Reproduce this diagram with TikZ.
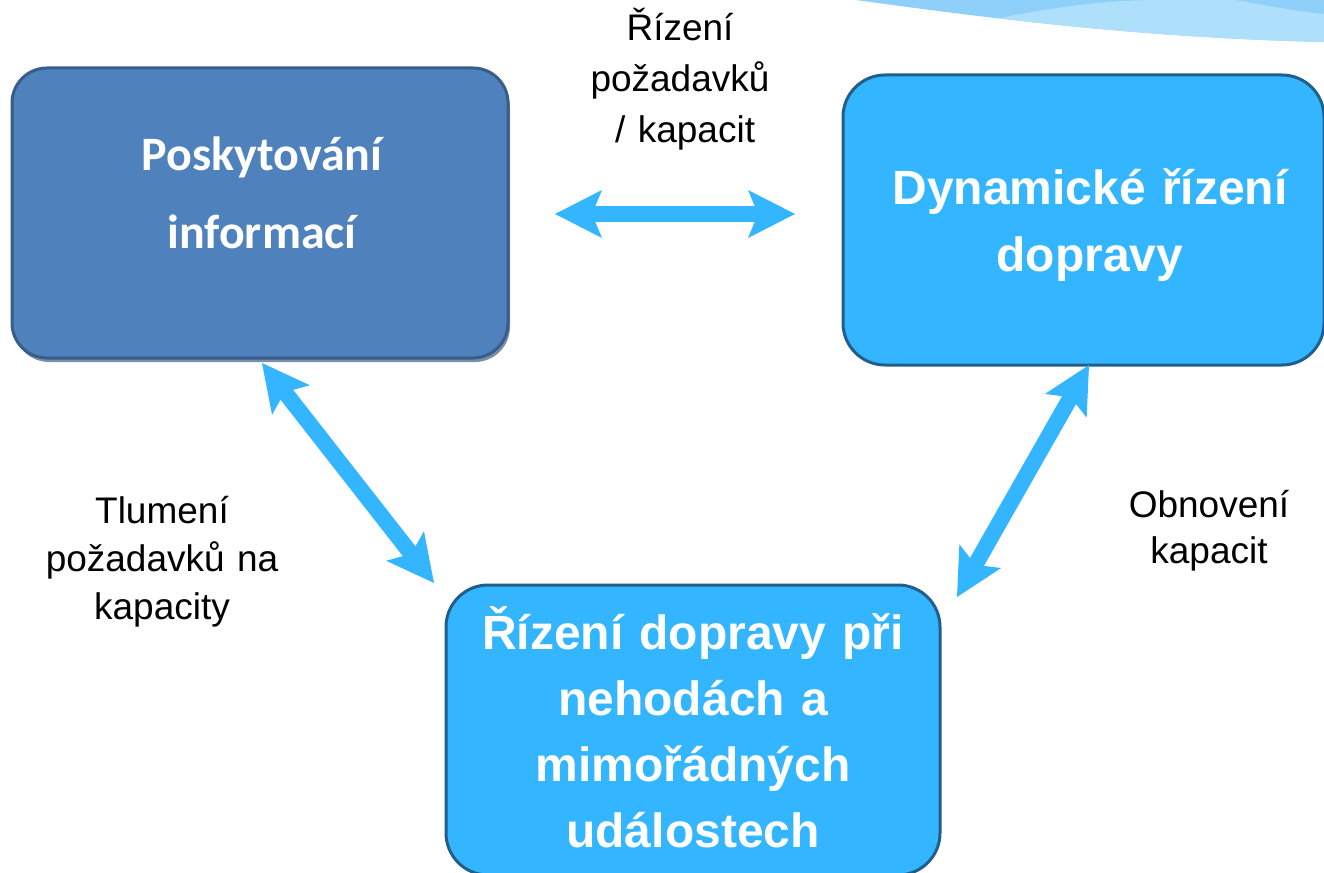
\documentclass[tikz,border=0pt]{standalone}
\usepackage{fontspec}
\setmainfont{Liberation Sans}
\newfontfamily\boxfont{Carlito}
\usetikzlibrary{arrows.meta,shadows}
\definecolor{skyfill}{RGB}{51,181,255}
\definecolor{skyborder}{RGB}{32,94,140}
\definecolor{steelfill}{RGB}{79,129,189}
\definecolor{steelborder}{RGB}{56,93,138}
\definecolor{steelshadow}{RGB}{124,143,168}
\definecolor{waveA}{RGB}{142,208,250}
\definecolor{waveB}{RGB}{174,224,252}
\begin{document}
\begin{tikzpicture}[x=1pt,y=-1pt,
  panel/.style={rectangle, rounded corners=42pt, line width=3pt, inner sep=0pt},
  sky/.style={panel, fill=skyfill, draw=skyborder},
  steel/.style={panel, rounded corners=35pt, fill=steelfill, draw=steelborder,
    drop shadow={shadow xshift=2pt, shadow yshift=-4pt, fill=steelshadow, opacity=1}},
  boxtext/.style={text=white, align=center, text width=470pt, inner sep=0pt, anchor=base},
  note/.style={align=center, text width=300pt, inner sep=0pt, anchor=base},
  link/.style={draw=skyfill, line width=16pt, {Stealth[length=47pt,width=48pt,inset=10pt,line width=0pt]}-{Stealth[length=47pt,width=48pt,inset=10pt,line width=0pt]}}
]
\useasboundingbox (0,0) rectangle (1324,872);

% decorative wave in the top right corner
\fill[waveA] (856,0) .. controls (1000,20) and (1150,38) .. (1324,42) -- (1324,0) -- cycle;
\begin{scope}
  \clip (856,0) .. controls (1000,20) and (1150,38) .. (1324,42) -- (1324,0) -- cycle;
  \fill[waveB] (1000,60) -- (1000,18) .. controls (1060,6) and (1110,0) .. (1160,0)
    -- (1235,0) .. controls (1270,6) and (1300,12) .. (1324,14) -- (1324,60) -- cycle;
\end{scope}

% the three panels
\node[steel, minimum width=496pt, minimum height=290pt] (info) at (260,213) {};
\node[sky, minimum width=481pt, minimum height=290pt] (dyn) at (1083.5,220) {};
\node[sky, minimum width=494pt, minimum height=290pt] (incid) at (693,730) {};

\node[boxtext, font=\boxfont\bfseries\fontsize{48}{78}\selectfont] (infotext) at (262,170)
  {Poskytování\\informací};
\node[boxtext, font=\bfseries\fontsize{48}{67}\selectfont] (dyntext) at (1090,204)
  {Dynamické řízení\\dopravy};
\node[boxtext, font=\bfseries\fontsize{48}{66}\selectfont] (incidtext) at (693,649)
  {Řízení dopravy při\\nehodách a\\mimořádných\\událostech};

% arrow end points
\coordinate (hL) at (555,214);
\coordinate (hR) at (795,214);
\coordinate (lTop) at (262,363);
\coordinate (lBot) at (434,583);
\coordinate (rTop) at (1089,365);
\coordinate (rBot) at (957,597);

\draw[link] (hL) -- (hR);
\draw[link] (lTop) -- (lBot);
\draw[link] (rTop) -- (rBot);

% arrow labels
\node[note, font=\fontsize{37}{51}\selectfont] (topnote) at (680,41)
  {Řízení\\požadavků\\\hspace*{0.278em}/ kapacit};
\node[note, font=\fontsize{37}{48}\selectfont] (leftnote) at (162,523)
  {Tlumení\\požadavků na\\kapacity};
\node[note, font=\fontsize{37}{46}\selectfont] (rightnote) at (1209,517)
  {Obnovení\\kapacit};
\end{tikzpicture}
\end{document}
